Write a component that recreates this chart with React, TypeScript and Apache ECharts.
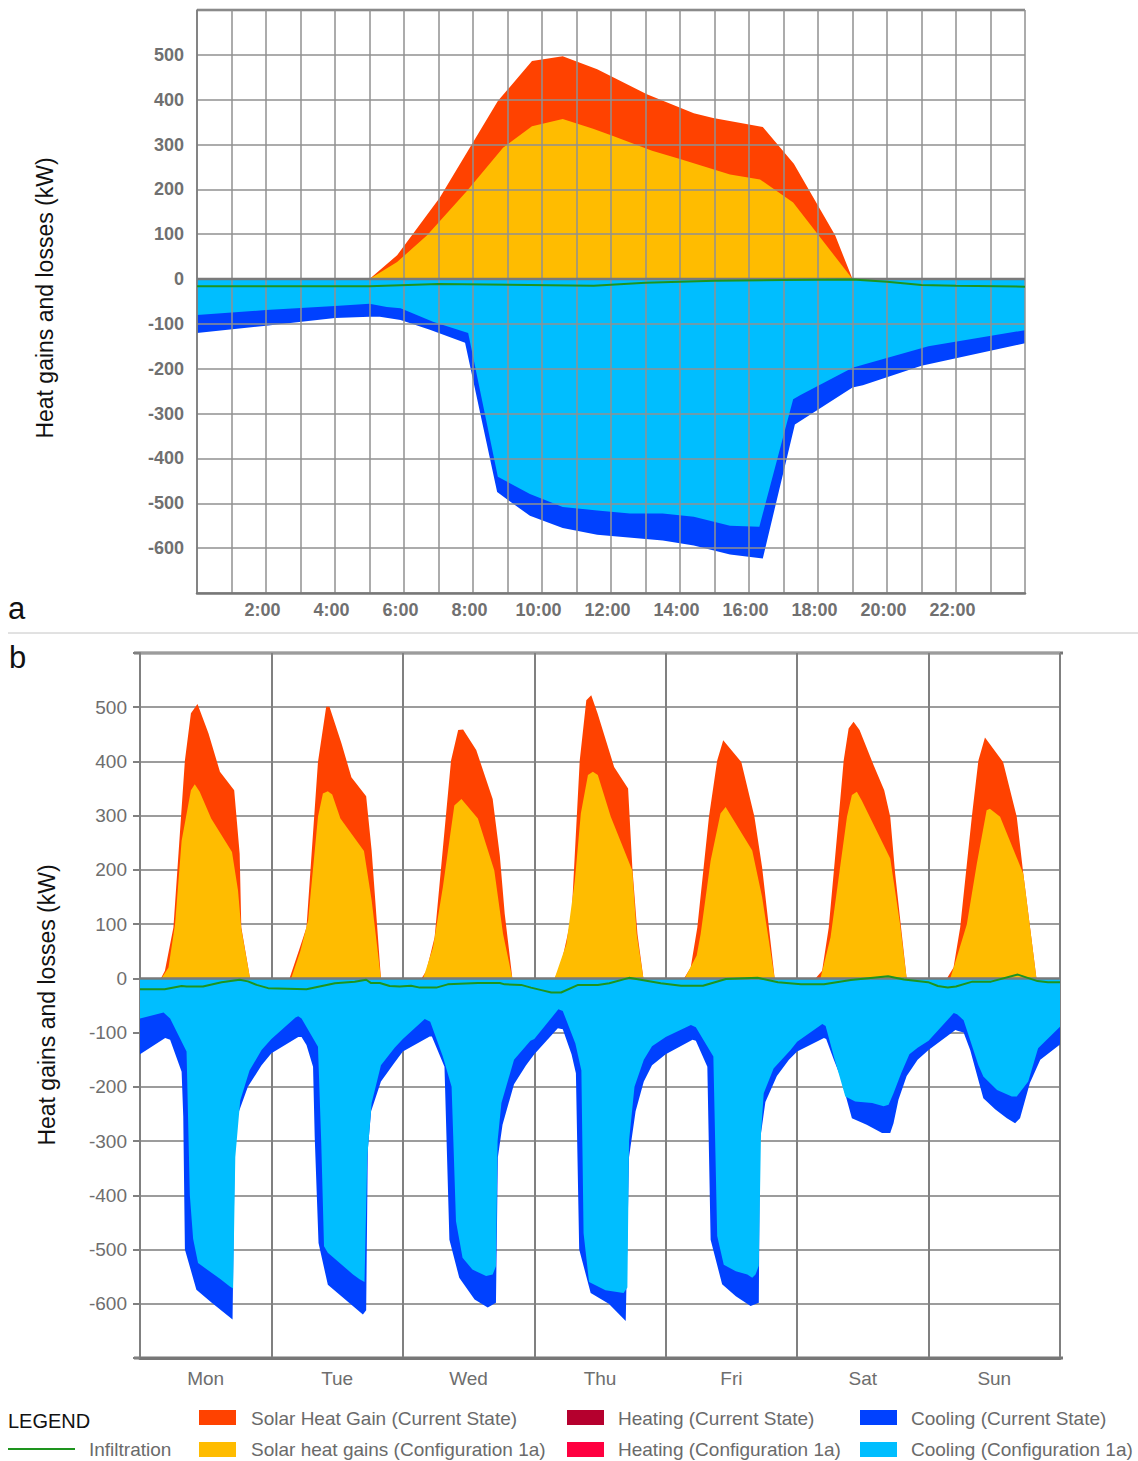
import React, { useEffect, useRef } from "react";
import * as echarts from "echarts";

const FONT = '"Liberation Sans", Arial, Helvetica, sans-serif';

const COLOR_SOLAR_CURRENT = "#FF4200";
const COLOR_SOLAR_CONFIG = "#FFBC00";
const COLOR_COOL_CURRENT = "#0041FF";
const COLOR_COOL_CONFIG = "#00BEFF";
const COLOR_HEAT_CURRENT = "#B5002E";
const COLOR_HEAT_CONFIG = "#FF0040";
const COLOR_INFILTRATION = "#1E941E";

// Tick labels
const valueTickLabels = ["-600", "-500", "-400", "-300", "-200", "-100", "0", "100", "200", "300", "400", "500"];
const hourTickLabels = ["2:00", "4:00", "6:00", "8:00", "10:00", "12:00", "14:00", "16:00", "18:00", "20:00", "22:00"];
const weekDays = ["Mon", "Tue", "Wed", "Thu", "Fri", "Sat", "Sun"];

// ---- Panel a: design day, [hour, kW] ----
const daySolarCurrent = [
  [5.0, 0], [5.8, 53], [7.04, 182], [8.72, 397], [9.71, 486], [10.6, 497], [11.6, 468],
  [13.04, 412], [14.4, 370], [14.96, 359], [16.4, 339], [17.3, 257], [18.5, 97], [19.0, 0],
];
const daySolarConfig = [
  [5.0, 0], [5.8, 38], [6.67, 98], [7.83, 197], [8.87, 293], [9.71, 341], [10.6, 357],
  [11.48, 335], [12.06, 319], [13.19, 286], [14.0, 268], [15.45, 233], [16.32, 222],
  [17.28, 171], [19.0, 0],
];
const dayCoolingCurrent = [
  [0, -120], [2, -104], [4, -87], [5, -84], [5.3, -84], [5.9, -91], [6.75, -113], [7.77, -142],
  [8.7, -475], [9.65, -528], [10.6, -555], [11.6, -570], [13.5, -583], [14.4, -594],
  [15.45, -614], [16.4, -623], [17.33, -324], [19.0, -242], [19.3, -237], [21.0, -193], [24, -143],
];
const dayCoolingConfig = [
  [0, -80], [2, -69], [4, -60], [5, -55], [5.5, -62], [5.9, -65], [6.84, -95], [7.86, -120],
  [8.72, -441], [9.65, -479], [10.6, -508], [11.6, -516], [12.55, -523], [13.5, -523],
  [14.4, -530], [15.45, -550], [16.3, -552], [17.28, -268], [17.48, -259], [19.0, -198],
  [19.2, -193], [21.2, -150], [24, -114],
];
const dayInfiltration = [
  [0, -16], [5, -16], [7, -11], [11.5, -15], [13, -8], [15, -4], [17, -2], [19, -1],
  [20, -6], [21, -13], [22, -15], [24, -17],
];

// ---- Panel b: one week, per day [hour of day, kW] ----
const weekSolarCurrent = [
  [[3.8, 0], [4.55, 14], [6.1, 94], [8.2, 402], [9.3, 489], [10.5, 506], [12.5, 452], [14.6, 381], [17.2, 347], [18.2, 230], [18.5, 94], [20.1, 0]],
  [[3.3, 0], [5.2, 57], [6.4, 94], [8.5, 399], [10.0, 501], [10.6, 501], [12.8, 433], [14.6, 371], [17.3, 336], [18.3, 236], [20.0, 0]],
  [[3.4, 0], [4.3, 14], [5.8, 76], [8.8, 402], [10.1, 458], [11.0, 459], [13.4, 421], [16.4, 331], [17.7, 227], [18.6, 119], [20.0, 0]],
  [[3.7, 0], [4.9, 26], [6.8, 113], [8.3, 402], [9.5, 513], [10.4, 522], [11.55, 489], [14.58, 390], [17.13, 350], [17.9, 205], [18.84, 82], [19.93, 0]],
  [[3.34, 0], [4.56, 20], [5.77, 94], [7.9, 298], [9.4, 402], [10.5, 439], [13.8, 399], [16.2, 298], [17.6, 205], [19.9, 0]],
  [[3.34, 0], [4.56, 14], [5.77, 94], [7.6, 298], [8.5, 402], [9.4, 461], [10.3, 473], [11.4, 458], [13.97, 393], [15.9, 347], [17.0, 298], [17.9, 193], [20.0, 0]],
  [[3.34, 0], [4.56, 20], [5.77, 94], [7.9, 298], [9.1, 402], [10.3, 444], [13.6, 399], [16.1, 298], [17.3, 193], [19.7, 0]],
];
const weekSolarConfig = [
  [[3.9, 0], [5.2, 20], [6.4, 100], [7.6, 254], [9.3, 347], [10.0, 358], [10.9, 344], [13.0, 295], [16.8, 233], [17.9, 162], [18.5, 91], [20.1, 0]],
  [[3.6, 0], [5.3, 51], [6.7, 107], [8.5, 298], [9.4, 341], [10.3, 345], [11.1, 339], [12.6, 295], [16.9, 235], [18.3, 144], [20.0, 0]],
  [[3.7, 0], [5.5, 57], [7.3, 168], [9.4, 319], [10.7, 331], [13.7, 295], [16.7, 199], [18.3, 82], [20.0, 0]],
  [[3.7, 0], [5.85, 63], [7.4, 180], [8.5, 304], [9.8, 375], [10.7, 381], [11.6, 375], [13.97, 298], [17.9, 199], [18.7, 82], [19.93, 0]],
  [[3.46, 0], [5.65, 42], [6.38, 82], [8.2, 217], [10.0, 304], [10.94, 316], [15.8, 236], [17.6, 150], [19.9, 0]],
  [[4.25, 0], [6.1, 76], [7.6, 187], [9.1, 298], [10.0, 338], [10.9, 344], [11.8, 328], [17.0, 221], [18.8, 100], [20.0, 0]],
  [[3.95, 0], [5.16, 39], [6.99, 100], [8.8, 211], [10.6, 310], [11.2, 313], [13.06, 298], [17.3, 193], [19.7, 0]],
];
const weekCoolingCurrent = [
  [[0, -140], [4.6, -110], [5.5, -113], [7.6, -172], [7.9, -255], [8.2, -500], [10.3, -574], [13.1, -598], [16.9, -629], [17.3, -316], [17.9, -250], [19.7, -200], [22.2, -160]],
  [[0, -138], [4.9, -108], [5.5, -108], [6.4, -123], [7.6, -163], [7.9, -291], [8.6, -488], [10.3, -565], [16.7, -620], [17.3, -612], [17.6, -316], [18.2, -245], [20.0, -190], [22.5, -155]],
  [[0, -135], [4.9, -107], [5.3, -107], [7.6, -163], [8.5, -482], [10.3, -552], [13.1, -592], [15.5, -607], [17.0, -598], [17.35, -330], [18.2, -270], [20.3, -195], [22.5, -160]],
  [[0, -140], [4.3, -92], [5.2, -94], [6.8, -140], [7.6, -175], [8.2, -500], [10.3, -580], [13.6, -600], [16.7, -632], [17.3, -330], [18.5, -245], [20.0, -190], [21.5, -160]],
  [[0, -140], [4.9, -113], [5.5, -115], [7.6, -163], [8.2, -482], [10.3, -564], [12.8, -586], [15.5, -604], [17.0, -598], [17.2, -300], [18.2, -228], [20.3, -180], [22.5, -150]],
  [[0, -135], [4.9, -110], [5.3, -112], [6.7, -150], [7.9, -181], [10.0, -258], [12.7, -270], [15.5, -285], [17.0, -285], [17.6, -267], [18.5, -224], [20.0, -180], [22.0, -150]],
  [[0, -132], [4.9, -95], [5.4, -97], [6.4, -100], [7.6, -132], [10.0, -221], [12.2, -242], [14.3, -258], [15.8, -267], [16.7, -258], [18.5, -193], [20.4, -150], [24, -122]],
];
const weekCoolingConfig = [
  [[0, -74], [4.3, -63], [5.5, -74], [8.5, -135], [9.1, -400], [9.7, -480], [10.6, -525], [14.6, -554], [16.4, -568], [17.0, -572], [17.4, -330], [18.3, -225], [20.0, -170], [22.2, -132]],
  [[0, -112], [4.4, -72], [4.9, -70], [5.5, -74], [8.5, -126], [9.1, -304], [9.6, -494], [10.3, -506], [14.9, -546], [16.1, -555], [17.0, -560], [17.5, -330], [18.3, -230], [20.0, -160], [22.5, -128]],
  [[0, -112], [4.0, -75], [5.0, -80], [7.3, -144], [8.9, -200], [9.7, -448], [10.9, -515], [12.7, -537], [15.2, -549], [16.4, -546], [17.0, -531], [17.3, -300], [18.0, -230], [20.3, -150], [23.3, -115]],
  [[0, -112], [4.4, -57], [5.2, -60], [7.5, -120], [8.6, -170], [9.0, -470], [10.0, -560], [13.0, -575], [16.3, -580], [17.0, -570], [17.3, -300], [18.3, -200], [20.0, -150], [21.5, -125]],
  [[0, -108], [4.6, -86], [5.5, -90], [8.7, -144], [9.4, -475], [10.6, -528], [12.8, -540], [14.9, -546], [15.8, -552], [16.4, -546], [17.0, -530], [17.4, -285], [17.9, -212], [19.7, -166], [22.8, -132]],
  [[0, -117], [4.6, -84], [5.2, -88], [6.7, -144], [8.8, -218], [10.6, -227], [13.7, -230], [15.8, -236], [16.7, -233], [17.6, -212], [19.0, -175], [20.5, -140], [22.0, -128]],
  [[0, -115], [4.6, -64], [5.2, -66], [6.4, -77], [9.1, -160], [10.0, -181], [12.5, -206], [15.2, -218], [16.1, -218], [18.2, -190], [20.0, -129], [24, -89]],
];
// Infiltration over the week, [hour of week, kW]
const weekInfiltration = [
  [0, -20], [4.5, -20], [7.6, -14], [8.5, -15], [11.5, -15], [14.9, -7], [18.2, -2.5], [19.7, -5.5],
  [21.3, -12], [23.4, -18], [30.4, -20], [35.6, -9], [39.2, -6], [41.3, -2.5], [42.2, -8.6],
  [43.8, -8.6], [45.6, -14], [47.4, -15], [49.5, -13.5], [51.1, -17], [54.1, -17], [56.2, -11],
  [61.7, -8.6], [65.7, -8.6], [66.6, -11], [69.6, -12], [71.4, -17], [73.3, -21.6], [75.1, -26],
  [76.9, -26], [80.0, -12], [83.6, -12], [85.7, -9], [89.3, 1], [95.1, -9], [98.8, -13.5],
  [102.8, -13.5], [107.0, -1], [112.8, 1], [116.5, -7], [120.7, -11], [124.9, -11], [129.8, -3],
  [136.6, 4], [139.5, -2], [143.9, -7], [145.7, -14], [147.5, -16.6], [149.0, -15], [152.0, -6],
  [155.4, -6], [160.3, 7], [163.9, -5], [165.8, -7], [168, -7],
];

const toWeek = (days: number[][][]) =>
  days.flatMap((pts, d) => pts.map(([h, v]) => [d * 24 + h, v]));

const area = (name: string, data: number[][], color: string, axis: number, z: number) => ({
  type: "line",
  name,
  data,
  xAxisIndex: axis,
  yAxisIndex: axis,
  symbol: "none",
  showSymbol: false,
  silent: true,
  z,
  lineStyle: { width: 0, opacity: 0 },
  areaStyle: { color, opacity: 1 },
});

const line = (name: string, data: number[][], color: string, width: number, axis: number, z: number) => ({
  type: "line",
  name,
  data,
  xAxisIndex: axis,
  yAxisIndex: axis,
  symbol: "none",
  showSymbol: false,
  silent: true,
  z,
  lineStyle: { color, width },
});

const valueLabel = (v: number) => (valueTickLabels.includes(String(v)) ? String(v) : "");
const hourLabel = (v: number) => {
  const s = `${v}:00`;
  return hourTickLabels.includes(s) ? s : "";
};

const legendText = (text: string, x: number, y: number) => ({
  type: "text",
  x,
  y,
  style: { text, fill: "#6a6a6a", fontSize: 19, fontFamily: FONT, align: "left", verticalAlign: "middle" },
});
const legendSwatch = (x: number, y: number, color: string) => ({
  type: "rect",
  shape: { x, y, width: 37, height: 15 },
  style: { fill: color },
});

function buildOption() {
  return {
    animation: false,
    grid: [
      { left: 197, top: 10, width: 828, height: 583 },
      { left: 140, top: 653, width: 920, height: 705 },
    ],
    xAxis: [
      {
        gridIndex: 0,
        type: "value",
        min: 0,
        max: 24,
        interval: 1,
        z: 5,
        axisLine: { show: true, onZero: false, lineStyle: { color: "#777", width: 2.5 } },
        axisTick: { show: false },
        axisLabel: {
          formatter: hourLabel,
          color: "#707070",
          fontWeight: "bold",
          fontSize: 18,
          fontFamily: FONT,
          margin: 8,
          padding: [0, 7, 0, 0],
        },
        splitLine: { show: true, lineStyle: { color: "#919191", width: 1.5 } },
      },
      {
        gridIndex: 1,
        type: "value",
        min: 0,
        max: 168,
        interval: 24,
        axisLine: { show: true, onZero: false, lineStyle: { color: "#777", width: 3 } },
        axisTick: { show: false },
        axisLabel: { show: false },
        splitLine: { show: true, lineStyle: { color: "#808080", width: 2 } },
      },
      {
        gridIndex: 1,
        type: "category",
        data: weekDays,
        position: "bottom",
        boundaryGap: true,
        axisLine: { show: false },
        axisTick: { show: false },
        splitLine: { show: false },
        axisLabel: { color: "#6e6e6e", fontSize: 19, fontFamily: FONT, margin: 11 },
      },
    ],
    yAxis: [
      {
        gridIndex: 0,
        type: "value",
        min: -700,
        max: 600,
        interval: 100,
        z: 5,
        axisLine: { show: true, onZero: false, lineStyle: { color: "#777", width: 1.5 } },
        axisTick: { show: false },
        axisLabel: {
          formatter: valueLabel,
          color: "#707070",
          fontWeight: "bold",
          fontSize: 18,
          fontFamily: FONT,
          margin: 13,
        },
        splitLine: { show: true, lineStyle: { color: "#919191", width: 1.5 } },
      },
      {
        gridIndex: 1,
        type: "value",
        min: -700,
        max: 600,
        interval: 100,
        axisLine: { show: true, onZero: false, lineStyle: { color: "#808080", width: 2 } },
        axisTick: { show: true, length: 7, lineStyle: { color: "#808080", width: 2 } },
        axisLabel: {
          formatter: valueLabel,
          color: "#6e6e6e",
          fontSize: 19,
          fontFamily: FONT,
          margin: 13,
        },
        splitLine: { show: true, lineStyle: { color: "#9c9c9c", width: 2 } },
      },
    ],
    series: [
      // panel a
      area("Cooling (Current State)", dayCoolingCurrent, COLOR_COOL_CURRENT, 0, 1),
      area("Cooling (Configuration 1a)", dayCoolingConfig, COLOR_COOL_CONFIG, 0, 2),
      area("Solar Heat Gain (Current State)", daySolarCurrent, COLOR_SOLAR_CURRENT, 0, 1),
      area("Solar heat gains (Configuration 1a)", daySolarConfig, COLOR_SOLAR_CONFIG, 0, 2),
      line("Zero", [[0, 0], [24, 0]], "#7a7a7a", 2.5, 0, 6),
      line("Infiltration", dayInfiltration, COLOR_INFILTRATION, 2, 0, 7),
      // panel b
      area("Cooling (Current State)", toWeek(weekCoolingCurrent), COLOR_COOL_CURRENT, 1, 1),
      area("Cooling (Configuration 1a)", toWeek(weekCoolingConfig), COLOR_COOL_CONFIG, 1, 2),
      area("Solar Heat Gain (Current State)", toWeek(weekSolarCurrent), COLOR_SOLAR_CURRENT, 1, 1),
      area("Solar heat gains (Configuration 1a)", toWeek(weekSolarConfig), COLOR_SOLAR_CONFIG, 1, 2),
      line("Zero", [[0, 0], [168, 0]], "#7a7a7a", 2.5, 1, 6),
      line("Infiltration", weekInfiltration, COLOR_INFILTRATION, 2, 1, 7),
    ],
    graphic: [
      // frame lines
      { type: "line", shape: { x1: 197, y1: 10, x2: 1025, y2: 10 }, style: { stroke: "#777", lineWidth: 2.5 } },
      { type: "line", shape: { x1: 8, y1: 633, x2: 1138, y2: 633 }, style: { stroke: "#c4c4c4", lineWidth: 1 } },
      { type: "line", shape: { x1: 134, y1: 653, x2: 1063, y2: 653 }, style: { stroke: "#777", lineWidth: 3 } },
      { type: "line", shape: { x1: 134, y1: 1358, x2: 1063, y2: 1358 }, style: { stroke: "#777", lineWidth: 3 } },
      // panel letters
      { type: "text", x: 8, y: 608, style: { text: "a", fill: "#111", fontSize: 31, fontFamily: FONT, verticalAlign: "middle" } },
      { type: "text", x: 9, y: 657, style: { text: "b", fill: "#111", fontSize: 31, fontFamily: FONT, verticalAlign: "middle" } },
      // axis titles
      {
        type: "text",
        x: 45,
        y: 298,
        rotation: Math.PI / 2,
        style: { text: "Heat gains and losses (kW)", fill: "#111", fontSize: 23, fontFamily: FONT, align: "center", verticalAlign: "middle" },
      },
      {
        type: "text",
        x: 47,
        y: 1005,
        rotation: Math.PI / 2,
        style: { text: "Heat gains and losses (kW)", fill: "#111", fontSize: 23, fontFamily: FONT, align: "center", verticalAlign: "middle" },
      },
      // legend
      { type: "text", x: 8, y: 1421, style: { text: "LEGEND", fill: "#111", fontSize: 20, fontFamily: FONT, verticalAlign: "middle" } },
      { type: "line", shape: { x1: 8, y1: 1449, x2: 75, y2: 1449 }, style: { stroke: COLOR_INFILTRATION, lineWidth: 2 } },
      legendText("Infiltration", 89, 1449),
      legendSwatch(199, 1410, COLOR_SOLAR_CURRENT),
      legendText("Solar Heat Gain (Current State)", 251, 1418),
      legendSwatch(199, 1442, COLOR_SOLAR_CONFIG),
      legendText("Solar heat gains (Configuration 1a)", 251, 1449),
      legendSwatch(567, 1410, COLOR_HEAT_CURRENT),
      legendText("Heating (Current State)", 618, 1418),
      legendSwatch(567, 1442, COLOR_HEAT_CONFIG),
      legendText("Heating (Configuration 1a)", 618, 1449),
      legendSwatch(860, 1410, COLOR_COOL_CURRENT),
      legendText("Cooling (Current State)", 911, 1418),
      legendSwatch(860, 1442, COLOR_COOL_CONFIG),
      legendText("Cooling (Configuration 1a)", 911, 1449),
    ],
  };
}

export default function App() {
  const ref = useRef<HTMLDivElement>(null);
  useEffect(() => {
    if (!ref.current) return;
    const chart = echarts.init(ref.current, null, { renderer: "svg" });
    chart.setOption(buildOption() as any);
    return () => chart.dispose();
  }, []);
  return (
    <div
      ref={ref}
      style={{ position: "absolute", left: 0, top: 0, width: 1138, height: 1461, background: "#fff" }}
    />
  );
}
